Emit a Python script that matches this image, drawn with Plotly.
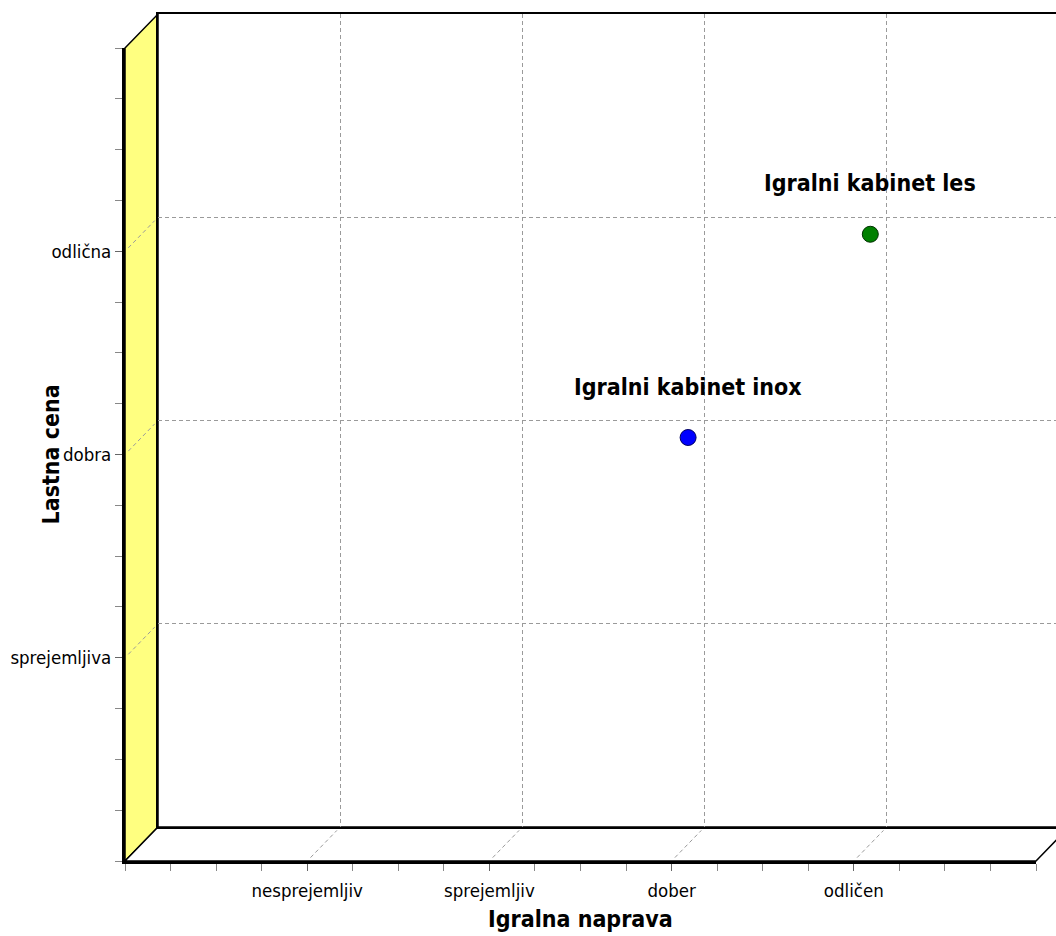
import plotly.graph_objects as go

W, H = 1056, 936

# Category axes
x_ticks = [1, 2, 3, 4]
x_labels = ["nesprejemljiv", "sprejemljiv", "dober", "odličen"]
y_ticks = [1, 2, 3]
y_labels = ["sprejemljiva", "dobra", "odlična"]

# Products
names = ["Igralni kabinet inox", "Igralni kabinet les"]
x_vals = [3, 4]
y_vals = [2, 3]
colors = ["#0000FF", "#008000"]
edge_colors = ["#000060", "#003000"]

X_MAX, Y_MAX = 5, 4

# Front frame of the pseudo-3D box (pixels) and the depth offset of the back wall
FL, FR, FT, FB = 125, 1036, 48, 861
DX, DY = 33, 34

NARROW = "Liberation Sans Narrow, Arial Narrow, DejaVu Sans Condensed, sans-serif"
TICK_SIZE = 18.5
TITLE_SIZE = 23


def px(x):
    return x / W


def py(y):
    return 1 - y / H


def sx(v, depth=0.0):
    return FL + v / X_MAX * (FR - FL) + depth * DX


def sy(v, depth=0.0):
    return FB - v / Y_MAX * (FB - FT) - depth * DY


fig = go.Figure()

# points sit halfway between the front axes and the back wall
fig.add_trace(go.Scatter(
    x=x_vals, y=y_vals, mode="markers", xaxis="x2", yaxis="y2",
    marker=dict(size=16, color=colors, line=dict(width=1, color=edge_colors)),
    cliponaxis=False, showlegend=False, hoverinfo="skip",
))
# anchor traces for the front axes and the back wall
fig.add_trace(go.Scatter(x=[None], y=[None], xaxis="x3", yaxis="y3",
                         showlegend=False, hoverinfo="skip"))
fig.add_trace(go.Scatter(x=[None], y=[None], xaxis="x", yaxis="y",
                         showlegend=False, hoverinfo="skip"))

back_x_max = X_MAX * (W - (FL + DX)) / (FR - FL)
grid = dict(showgrid=True, gridcolor="#9a9a9a", gridwidth=1, griddash="4px,3px",
            zeroline=False, showticklabels=False, ticks="", automargin=False,
            showline=True, linecolor="#000000", linewidth=2)

front = dict(ticks="outside", ticklen=7, tickwidth=1, tickcolor="#666666",
             minor=dict(tickmode="linear", tick0=0, dtick=0.25, ticks="outside",
                        ticklen=7, tickwidth=1, tickcolor="#888888", showgrid=False),
             showgrid=False, zeroline=False, automargin=False,
             showline=True, linecolor="#000000", linewidth=3,
             tickfont=dict(family=NARROW, size=TICK_SIZE, color="#000000"))

fig.update_layout(
    width=W, height=H,
    margin=dict(l=0, r=0, t=0, b=0, autoexpand=False),
    paper_bgcolor="#FFFFFF", plot_bgcolor="rgba(0,0,0,0)",
    showlegend=False,
    # back wall with the dashed grid
    xaxis=dict(domain=[px(FL + DX), 1.0], range=[0, back_x_max], anchor="y",
               tickmode="array", tickvals=x_ticks, mirror=True, **grid),
    yaxis=dict(domain=[py(FB - DY), py(FT - DY)], range=[0, Y_MAX], anchor="x",
               tickmode="array", tickvals=y_ticks, mirror=False, **grid),
    # mid-depth plane for the data
    xaxis2=dict(domain=[px(FL + DX / 2), px(FR + DX / 2)], range=[0, X_MAX],
                anchor="y2", visible=False, automargin=False),
    yaxis2=dict(domain=[py(FB - DY / 2), py(FT - DY / 2)], range=[0, Y_MAX],
                anchor="x2", visible=False, automargin=False),
    # front axes with ticks and labels
    xaxis3=dict(domain=[px(FL), px(FR)], range=[0, X_MAX], anchor="y3",
                tickmode="array", tickvals=x_ticks, ticktext=x_labels,
                ticklabelstandoff=4, **front),
    yaxis3=dict(domain=[py(FB), py(FT)], range=[0, Y_MAX], anchor="x3",
                tickmode="array", tickvals=y_ticks, ticktext=y_labels, **front),
)

shapes = []
# left wall
shapes.append(dict(
    type="path", xref="paper", yref="paper", layer="below",
    path=(f"M {px(FL)},{py(FT)} L {px(FL + DX)},{py(FT - DY)} "
          f"L {px(FL + DX)},{py(FB - DY)} L {px(FL)},{py(FB)} Z"),
    fillcolor="#FFFF80", line=dict(color="#000000", width=1.5),
))
# floor
shapes.append(dict(
    type="path", xref="paper", yref="paper", layer="below",
    path=(f"M {px(FL)},{py(FB)} L {px(FL + DX)},{py(FB - DY)} "
          f"L {px(FR + DX)},{py(FB - DY)} L {px(FR)},{py(FB)} Z"),
    fillcolor="#FFFFFF", line=dict(color="#000000", width=1.5),
))
# depth guides from the front ticks to the back grid
for v in x_ticks:
    shapes.append(dict(
        type="line", xref="paper", yref="paper", layer="below",
        x0=px(sx(v, 0.1)), y0=py(sy(0, 0.1)), x1=px(sx(v, 0.9)), y1=py(sy(0, 0.9)),
        line=dict(color="#9a9a9a", width=1, dash="4px,3px"),
    ))
for v in y_ticks:
    shapes.append(dict(
        type="line", xref="paper", yref="paper", layer="below",
        x0=px(sx(0, 0.1)), y0=py(sy(v, 0.1)), x1=px(sx(0, 0.9)), y1=py(sy(v, 0.9)),
        line=dict(color="#9a9a9a", width=1, dash="4px,3px"),
    ))
fig.update_layout(shapes=shapes)

annotations = []
for name, xv, yv in zip(names, x_vals, y_vals):
    annotations.append(dict(
        x=xv, y=yv, xref="x2", yref="y2", text=name, showarrow=False,
        yshift=51, xanchor="center", yanchor="middle",
        font=dict(family=NARROW, size=TITLE_SIZE, color="#000000", weight="bold"),
    ))
annotations.append(dict(
    x=px((FL + FR) / 2), y=py(919), xref="paper", yref="paper",
    text="Igralna naprava", showarrow=False, xanchor="center", yanchor="middle",
    font=dict(family=NARROW, size=TITLE_SIZE, color="#000000", weight="bold"),
))
annotations.append(dict(
    x=px(50), y=py((FT + FB) / 2), xref="paper", yref="paper",
    text="Lastna cena", showarrow=False, textangle=-90,
    xanchor="center", yanchor="middle",
    font=dict(family=NARROW, size=TITLE_SIZE, color="#000000", weight="bold"),
))
fig.update_layout(annotations=annotations)

fig.write_html("out.html")
